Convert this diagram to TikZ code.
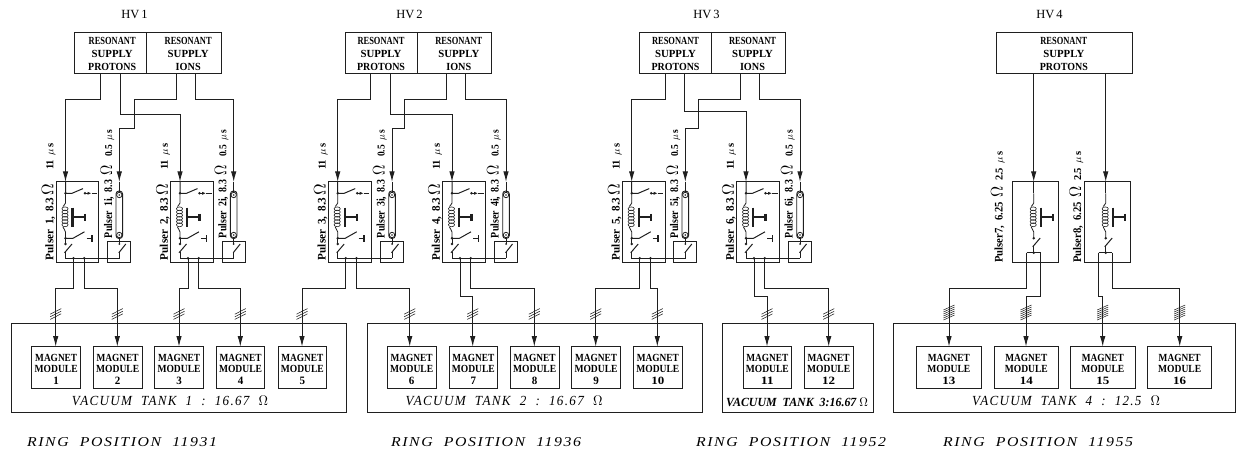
\documentclass[tikz,border=0pt]{standalone}
\usepackage{fontspec}
\setmainfont{Liberation Serif}
\usetikzlibrary{arrows.meta}
\definecolor{ink}{gray}{0.12}
\newcommand{\fitbox}[3]{\resizebox{#1pt}{#2pt}{#3}}
\tikzset{
  wire/.style={draw=ink,line width=1pt},
  feed/.style={wire,-{Latex[length=10.5pt,width=5.4pt]}},
  box/.style={draw=ink,line width=1pt,inner sep=0pt,outer sep=0pt,anchor=north west},
  lab/.style={inner sep=0pt,outer sep=0pt,text=black},
  vlab/.style={lab,rotate=90,anchor=base west},
  dotm/.style={fill=ink,draw=none,circle,minimum size=2.8pt,inner sep=0pt},
}
\newcommand{\supply}[5]{%
  \node[box,minimum width=#3pt,minimum height=41.4pt] (#1) at (#2,32.3) {};
  \node[lab] (#1a) at (#2+#4,41) {\fitbox{47}{7.2}{\bfseries RESONANT}};
  \node[lab] (#1b) at (#2+#4,53.7) {\fitbox{41}{7.2}{\bfseries SUPPLY}};
  \node[lab] (#1c) at (#2+#4,66.5) {\fitbox{#5}{7.2}{\bfseries\ifnum#5>30 PROTONS\else IONS\fi}};
}
\newcommand{\coilT}{%
  \draw[wire,line width=0.8pt] (0,193.3) -- (0,203) .. controls (0,205) and (-2,204.5) .. (-2.5,206.5);
  \foreach \cy in {208,211.2,214.4,217.6,220.8,224}{\draw[wire,line width=0.6pt] (-0.5,\cy+0.8) ellipse (3.1pt and 1.9pt);}
  \draw[wire,line width=0.8pt] (-2.5,227) .. controls (-2,230) and (0,229.5) .. (0,232) -- (0,238.3);
  \draw[draw=ink,line width=2.2pt] (7,207.7) -- (7,227.3);
  \draw[draw=ink,line width=1.8pt] (7,217.3) -- (19.5,217.3);
  \draw[draw=ink,line width=2.2pt] (19.5,213.8) -- (19.5,220.8);
}
\newcommand{\pulserA}[2]{%
\begin{scope}[shift={(#2,0)}]
  \node[box,minimum width=42.5pt,minimum height=80.3pt] (P#1) at (-9.2,182) {};
  \coordinate (P#1in) at (0,182);
  \coordinate (P#1x) at (8,258.3);
  \coordinate (P#1y) at (18.7,258.3);
  \coordinate (P#1bus) at (54,258.3);
  \draw[wire] (P#1in) -- (0,193.3) -- (6.5,193.3) -- (17.5,188.6);
  \node[dotm] at (0,193.3) {};
  \node[dotm] at (19.5,193.3) {};
  \draw[wire,-{Latex[length=4pt,width=3.2pt]}] (19.5,193.3) -- (26,193.3);
  \draw[wire] (26,193.3) -- (31.5,193.3);
  \coilT
  \node[dotm] at (0,238.3) {};
  \draw[wire] (0,238.3) -- (7.5,238.3) -- (19,231.8);
  \draw[wire] (21,238.3) -- (26.5,238.3);
  \draw[draw=ink,line width=1.6pt] (26.5,235.5) -- (26.5,241.5);
  \node[dotm] at (0,244) {};
  \draw[wire] (0,238.3) -- (0,244);
  \draw[wire] (-1,252.8) -- (6.5,244);
  \draw[wire] (0,251.8) -- (0,258.3) -- (P#1bus);
  \node[dotm] at (P#1x) {};
  \node[dotm] at (P#1y) {};
\end{scope}}
\newcommand{\pulserB}[2]{%
\begin{scope}[shift={(#2,0)}]
  \coordinate (C#1in) at (0,182);
  \node[box,minimum width=23pt,minimum height=21.3pt] (C#1sw) at (-11.6,241) {};
  \draw[draw=ink,line width=0.9pt,rounded corners=3pt] (-3.3,191) rectangle (3.3,238.5);
  \draw[wire] (C#1in) -- (0,192);
  \draw[wire,line width=0.8pt] (0,195) circle (2.7pt);
  \draw[wire,line width=0.8pt] (0,235) circle (2.7pt);
  \node[dotm,minimum size=1.8pt] at (0,195) {};
  \node[dotm,minimum size=1.8pt] at (0,235) {};
  \draw[wire] (0,237.7) -- (0,244);
  \node[dotm,minimum size=2pt] at (0,244) {};
  \draw[wire] (-0.5,252.8) -- (6.5,244);
  \draw[wire] (0,251.8) -- (0,258.3);
\end{scope}}
\newcommand{\pulserC}[5]{%
\begin{scope}[shift={(#2,0)}]
  \node[box,minimum width=#3pt,minimum height=80.3pt] (P#1) at (#4,182) {};
  \coordinate (P#1in) at (0,182);
  \draw[wire] (P#1in) -- (0,193.3);
  \coilT
  \node[dotm] at (0,238.3) {};
  \draw[wire] (-1,246.8) -- (6.5,238);
  \draw[wire] (0,245.8) -- (0,252.7);
  \node[dotm] at (0,252.7) {};
  \coordinate (P#1x) at (-7.1,252.7);
  \coordinate (P#1y) at (#5,252.7);
  \draw[wire] (P#1x) -- (P#1y);
\end{scope}}
\newcommand{\magnet}[4]{%
  \node[box,minimum width=#3pt,minimum height=42pt] (M#1) at (#2,346.7) {};
  \node[lab] at (#2+#3/2,357.7) {\fitbox{42}{7.2}{\bfseries MAGNET}};
  \node[lab] at (#2+#3/2,369) {\fitbox{43}{7.2}{\bfseries MODULE}};
  \node[lab] at (#2+#3/2,380.7) {\fitbox{#4}{7.4}{\bfseries #1}};
}
\newcommand{\hash}[2]{\foreach \k in {-2.6,0,2.6}{\draw[draw=ink,line width=0.55pt] (#1-5.5,#2+\k+2.8) -- (#1+5.5,#2+\k-2.8);}}
\newcommand{\hashd}[2]{\foreach \k in {-5,-3,-1,1,3,5}{\draw[draw=ink,line width=0.55pt] (#1-5.5,#2+\k+2.5) -- (#1+5.5,#2+\k-2.5);}}
\newcommand{\rl}[5]{\node[vlab] at (#1,#2) {\fitbox{#3}{#4}{#5}};}
\newcommand{\om}{$\Omega$}
\newcommand{\omb}{\scalebox{1.45}{$\Omega$}}
\newcommand{\sep}{\hspace{0.45em}}
\newcommand{\ital}{\itshape\addfontfeature{LetterSpace=10}}
\begin{document}
\begin{tikzpicture}[x=1pt,y=-1pt]
\useasboundingbox (0,0) rectangle (1238,454);
\node[lab] (hv1) at (134.5,14.5) {\fontsize{12.5}{12.5}\selectfont HV\,1};
\node[lab] (hv2) at (409.5,14.5) {\fontsize{12.5}{12.5}\selectfont HV\,2};
\node[lab] (hv3) at (706.5,14.5) {\fontsize{12.5}{12.5}\selectfont HV\,3};
\node[lab] (hv4) at (1049.5,14.5) {\fontsize{12.5}{12.5}\selectfont HV\,4};
\supply{S1p}{74.7}{72}{37.5}{48}
\supply{S1i}{146.7}{75}{41.5}{25}
\supply{S2p}{345}{72.3}{36}{48}
\supply{S2i}{417.3}{74.4}{41.5}{25}
\supply{S3p}{639}{72}{36.5}{48}
\supply{S3i}{711}{74.3}{41.5}{25}
\supply{S4p}{996.3}{135.7}{67.5}{48}
\pulserA{1}{65.5}\pulserB{1}{119.3}
\pulserA{2}{180}\pulserB{2}{233.7}
\pulserA{3}{337.7}\pulserB{3}{392}
\pulserA{4}{452}\pulserB{4}{506}
\pulserA{5}{631.7}\pulserB{5}{685.3}
\pulserA{6}{746}\pulserB{6}{800}
\pulserC{7}{1033.7}{46}{-21.7}{7.1}
\pulserC{8}{1105.7}{46.7}{-21.7}{6.7}
\draw[feed] ([xshift=26pt]S1p.south west) |- (65.5,99.3) -- (P1in);
\draw[feed] ([xshift=45.6pt]S1p.south west) |- (180,114.3) -- (P2in);
\draw[feed] ([xshift=30pt]S1i.south west) |- (134.3,99.3) |- (119.3,129) -- (C1in);
\draw[feed] ([xshift=49pt]S1i.south west) |- (233.7,99.3) -- (C2in);
\draw[feed] ([xshift=25.3pt]S2p.south west) |- (337.7,99.3) -- (P3in);
\draw[feed] ([xshift=45pt]S2p.south west) |- (452,114.3) -- (P4in);
\draw[feed] ([xshift=28.7pt]S2i.south west) |- (404.3,99.3) |- (392,129) -- (C3in);
\draw[feed] ([xshift=48.4pt]S2i.south west) |- (506,99.3) -- (C4in);
\draw[feed] ([xshift=26pt]S3p.south west) |- (631.7,99.3) -- (P5in);
\draw[feed] ([xshift=45.3pt]S3p.south west) |- (746,112) -- (P6in);
\draw[feed] ([xshift=29.3pt]S3i.south west) |- (698.3,99.3) |- (685.3,129) -- (C5in);
\draw[feed] ([xshift=48.7pt]S3i.south west) |- (800,99.3) -- (C6in);
\draw[feed] ([xshift=37.4pt]S4p.south west) -- (P7in);
\draw[feed] ([xshift=109.4pt]S4p.south west) -- (P8in);
\node[box,minimum width=335.4pt,minimum height=88.7pt] (T1) at (11.3,323.3) {};
\node[box,minimum width=335pt,minimum height=88.7pt] (T2) at (367,323.3) {};
\node[box,minimum width=150.6pt,minimum height=88.7pt] (T3) at (722.7,323.3) {};
\node[box,minimum width=342.4pt,minimum height=88.7pt] (T4) at (893.3,323.3) {};
\magnet{1}{31.7}{49}{5.5}
\magnet{2}{93.3}{48.7}{5.5}
\magnet{3}{154.3}{49.4}{5.5}
\magnet{4}{216.3}{48.4}{5.5}
\magnet{5}{278}{48.7}{5.5}
\magnet{6}{387.3}{48.7}{5.5}
\magnet{7}{449}{48.7}{5.5}
\magnet{8}{510.3}{48.7}{5.5}
\magnet{9}{571.7}{48.6}{5.5}
\magnet{10}{633.3}{49}{13}
\magnet{11}{743}{48.7}{13}
\magnet{12}{804.3}{48.7}{13}
\magnet{13}{916.7}{64.3}{13}
\magnet{14}{994.3}{64}{13}
\magnet{15}{1070.7}{64.3}{13}
\magnet{16}{1147.7}{64}{13}
\draw[feed] (P1x) |- (55.7,288.3) -- (M1.north -| 55.7pt,0);
\draw[feed] (P1y) |- (117.3,288.3) -- (M2.north -| 117.3pt,0);
\draw[feed] (P2x) |- (179,288.3) -- (M3.north -| 179pt,0);
\draw[feed] (P2y) |- (240.3,288.3) -- (M4.north -| 240.3pt,0);
\draw[feed] (P3x) |- (302,288.3) -- (M5.north -| 302pt,0);
\draw[feed] (P3y) |- (409.7,288.3) -- (M6.north -| 409.7pt,0);
\draw[feed] (P4x) |- (472.7,296.7) -- (M7.north -| 472.7pt,0);
\draw[feed] (P4y) |- (534.3,288.3) -- (M8.north -| 534.3pt,0);
\draw[feed] (P5x) |- (595.7,288.3) -- (M9.north -| 595.7pt,0);
\draw[feed] (P5y) |- (657.3,288.3) -- (M10.north -| 657.3pt,0);
\draw[feed] (P6x) |- (767,296.7) -- (M11.north -| 767pt,0);
\draw[feed] (P6y) |- (828.7,288.3) -- (M12.north -| 828.7pt,0);
\draw[feed] (P7x) |- (949,288.3) -- (M13.north -| 949pt,0);
\draw[feed] (P7y) |- (1026,296.7) -- (M14.north -| 1026pt,0);
\draw[feed] (P8x) |- (1102.7,296.7) -- (M15.north -| 1102.7pt,0);
\draw[feed] (P8y) |- (1179.7,288.3) -- (M16.north -| 1179.7pt,0);
\foreach \hx in {55.7,117.3,179,240.3,302,409.7,472.7,534.3,595.7,657.3,767,828.7}{\hash{\hx}{314}}
\foreach \hx in {949,1026,1102.7,1179.7}{\hashd{\hx}{312.5}}
\foreach \n/\x in {1/53.3,2/167.8,3/325.5,4/439.8,5/619.5,6/733.8}{
  \rl{\x}{260}{76}{11.5}{\bfseries Pulser\sep\n,\sep 8.3\,\omb}
  \rl{\x}{170}{27}{7}{\bfseries 11\sep$\mu$\,s}
}
\foreach \n/\x in {1/112,2/226.4,3/384.7,4/498.7,5/678,6/792.7}{
  \rl{\x}{238}{73}{11.5}{\bfseries Pulser\sep\n i,\sep 8.3\sep\omb}
  \rl{\x}{157}{27}{7}{\bfseries 0.5\sep$\mu$\,s}
}
\rl{1002.5}{262.5}{76}{11.5}{\bfseries Pulser7,\sep 6.25\sep\omb}
\rl{1002.5}{181}{30}{7}{\bfseries 2.5\sep$\mu$\,s}
\rl{1081}{262.5}{76}{11.5}{\bfseries Pulser8,\sep 6.25\sep\omb}
\rl{1081}{181}{30}{7}{\bfseries 2.5\sep$\mu$\,s}
\node[lab] (t1l) at (170,401) {\fitbox{196}{9.5}{\ital VACUUM\ \ TANK\ \ 1\ \ :\ \ 16.67\ \ \om}};
\node[lab] (t2l) at (504,401) {\fitbox{197}{9.5}{\ital VACUUM\ \ TANK\ \ 2\ \ :\ \ 16.67\ \ \om}};
\node[lab] (t3l) at (797,402.5) {\fitbox{142}{8.5}{\bfseries\itshape VACUUM\ \ TANK\ \ 3:16.67\ \om}};
\node[lab] (t4l) at (1066,401) {\fitbox{188}{9.5}{\ital VACUUM\ \ TANK\ \ 4\ \ :\ \ 12.5\ \ \om}};
\node[lab] (r1) at (122,441.7) {\fitbox{190}{9}{\ital RING\ \ POSITION\ \ 11931}};
\node[lab] (r2) at (486,441.7) {\fitbox{190}{9}{\ital RING\ \ POSITION\ \ 11936}};
\node[lab] (r3) at (791,441.7) {\fitbox{190}{9}{\ital RING\ \ POSITION\ \ 11952}};
\node[lab] (r4) at (1038,441.7) {\fitbox{190}{9}{\ital RING\ \ POSITION\ \ 11955}};
\end{tikzpicture}
\end{document}
